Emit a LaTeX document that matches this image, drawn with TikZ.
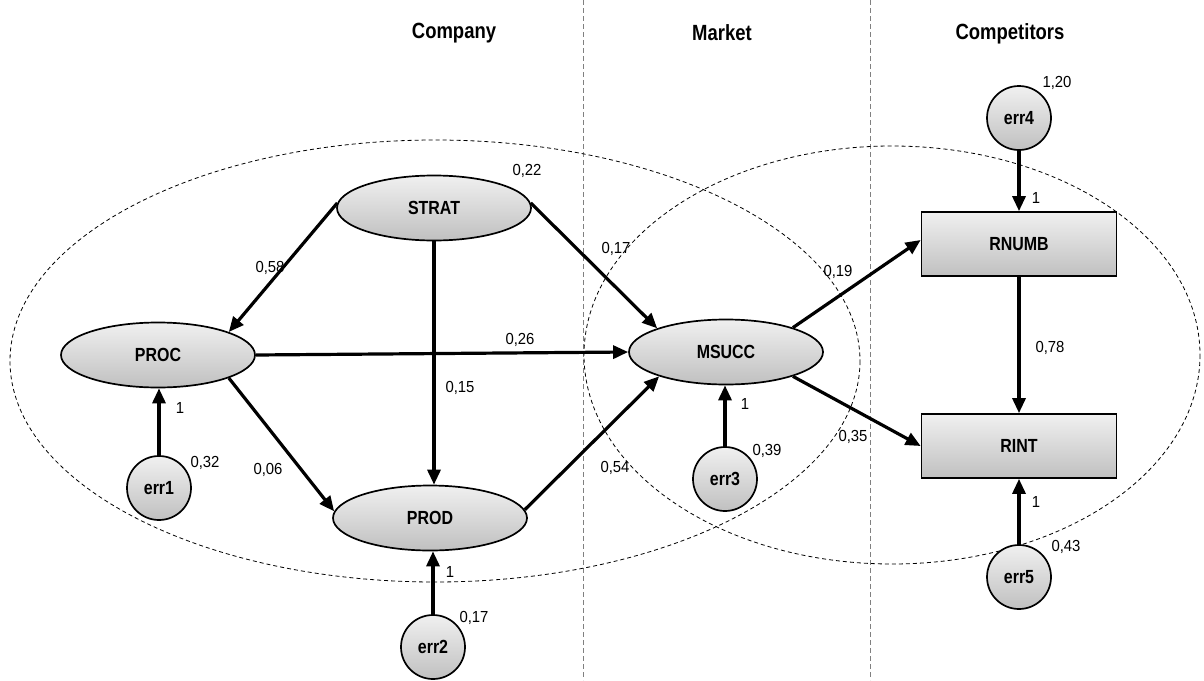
\documentclass[tikz,border=0pt]{standalone}
\usepackage{fontspec}
\setmainfont{Liberation Sans}
\newfontfamily\nfont[FakeStretch=0.84]{Liberation Sans}
\newfontfamily\lfont[FakeStretch=0.93]{Liberation Sans}
\usetikzlibrary{arrows.meta,shapes.geometric}
\definecolor{shtop}{RGB}{240,240,240}
\definecolor{shbot}{RGB}{192,192,192}
\begin{document}
\begin{tikzpicture}[x=1pt,y=-1pt,
  shaded/.style={draw, line width=1.7pt, top color=shtop, bottom color=shbot, inner sep=0pt,
    font=\nfont\bfseries\fontsize{19}{21}\selectfont},
  latent/.style={shaded, ellipse, minimum width=194pt, minimum height=65pt},
  errnode/.style={shaded, circle, minimum size=64pt},
  obsbox/.style={shaded, rectangle, minimum width=195pt, minimum height=64pt},
  lab/.style={font=\lfont\fontsize{16}{18}\selectfont, inner sep=0pt},
  ttl/.style={font=\nfont\bfseries\fontsize{22}{24}\selectfont, inner sep=0pt},
  arr/.style={line width=3.2pt, -{Triangle[length=15pt,width=13pt]}},
  grp/.style={line width=0.8pt, dash pattern=on 4pt off 3pt},
  sep/.style={line width=1pt, gray, dash pattern=on 5pt off 3pt}]
\useasboundingbox (0,0) rectangle (1204,680);
% separators and groups
\coordinate (s1t) at (583,0); \coordinate (s1b) at (583,680);
\coordinate (s2t) at (870,0); \coordinate (s2b) at (870,680);
\draw[sep] (s1t) -- (s1b);
\draw[sep] (s2t) -- (s2b);
\draw[grp] (435,361) ellipse [x radius=425, y radius=221];
\draw[grp] (892,355) ellipse [x radius=308, y radius=209];
% titles
\node[ttl] (tcomp) at (454,33) {Company};
\node[ttl] (tmark) at (722,33) {Market};
\node[ttl] (tcompet) at (1010,34) {Competitors};
% nodes
\node[latent] (strat) at (434,208) {STRAT};
\node[latent] (proc) at (158,355) {PROC};
\node[latent] (prod) at (430,518) {PROD};
\node[latent] (msucc) at (726,352) {MSUCC};
\node[obsbox] (rnumb) at (1019,244) {RNUMB};
\node[obsbox] (rint) at (1019,446) {RINT};
\node[errnode] (err1) at (159,488) {err1};
\node[errnode] (err2) at (433,647) {err2};
\node[errnode] (err3) at (725,479) {err3};
\node[errnode] (err4) at (1019,118) {err4};
\node[errnode] (err5) at (1019,577) {err5};
% connectors
\draw[arr] (strat.177) -- (proc.18);
\draw[arr] (strat.3) -- (msucc.161);
\draw[arr] (strat.south) -- (strat.south |- prod.north);
\draw[arr] (proc.east) -- (msucc.west);
\draw[arr] (proc.-18) -- (prod.176);
\draw[arr] (prod.5) -- (msucc.200);
\draw[arr] (msucc.20) -- ([yshift=4pt]rnumb.west);
\draw[arr] (msucc.-20) -- (rint.west);
\draw[arr] (rnumb.south) -- (rint.north);
\draw[arr] (err1.north) -- (err1.north |- proc.south);
\draw[arr] (err2.north) -- (err2.north |- prod.south);
\draw[arr] (err3.north) -- (err3.north |- msucc.south);
\draw[arr] (err4.south) -- (rnumb.north);
\draw[arr] (err5.north) -- (rint.south);
% labels
\node[lab] (l1) at (527,171) {0,22};
\node[lab] (l2) at (270,268) {0,58};
\node[lab] (l3) at (616,249) {0,17};
\node[lab] (l4) at (520,340) {0,26};
\node[lab] (l5) at (460,388) {0,15};
\node[lab] (l6) at (268,470) {0,06};
\node[lab] (l7) at (180,408) {1};
\node[lab] (l8) at (205,463) {0,32};
\node[lab] (l9) at (615,468) {0,54};
\node[lab] (l10) at (745,404) {1};
\node[lab] (l11) at (767,451) {0,39};
\node[lab] (l12) at (853,437) {0,35};
\node[lab] (l13) at (838,272) {0,19};
\node[lab] (l14) at (1050,348) {0,78};
\node[lab] (l15) at (450,572) {1};
\node[lab] (l16) at (474,618) {0,17};
\node[lab] (l17) at (1036,198) {1};
\node[lab] (l18) at (1057,83) {1,20};
\node[lab] (l19) at (1036,502) {1};
\node[lab] (l20) at (1066,547) {0,43};
\end{tikzpicture}
\end{document}
